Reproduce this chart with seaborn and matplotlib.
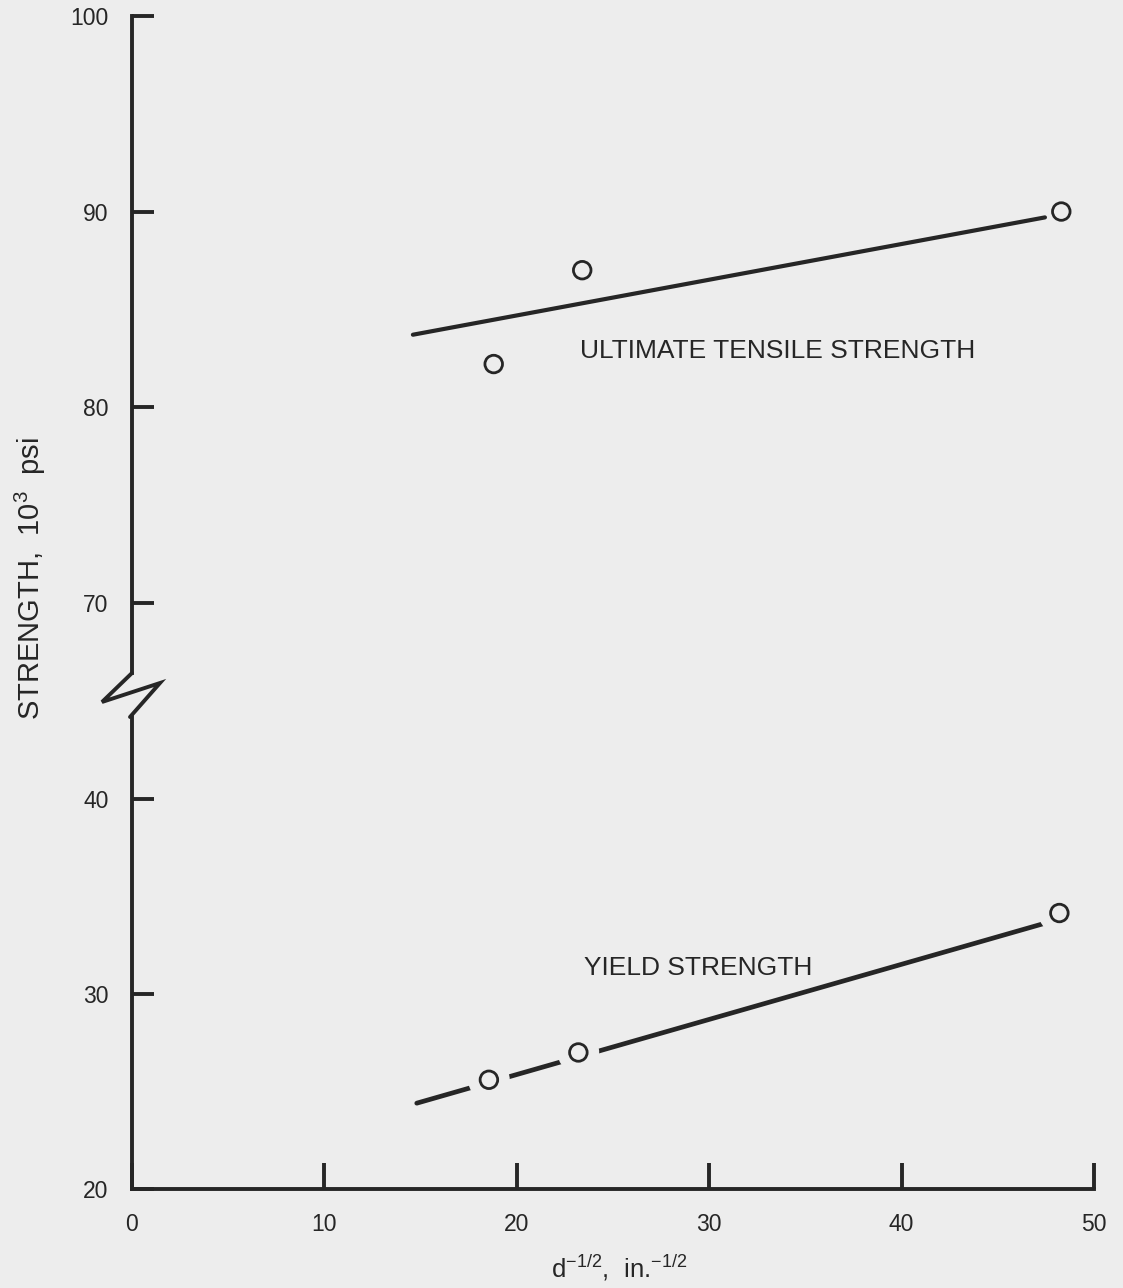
import numpy as np
import pandas as pd
import matplotlib
matplotlib.use("Agg")
import matplotlib.pyplot as plt
from matplotlib.lines import Line2D
import seaborn as sns

# ---- data ----
uts_x = [18.8, 23.4, 48.3]
uts_y = [82.2, 87.0, 90.0]
uts_line_x = [14.6, 47.45]
uts_line_y = [83.7, 89.7]

ys_x = [18.55, 23.2, 48.2]
ys_y = [25.6, 27.0, 34.15]
ys_line_x = [14.8, 47.5]
ys_line_y = [24.4, 33.64]

x_ticks = [0, 10, 20, 30, 40, 50]
y_ticks_top = [70, 80, 90, 100]
y_ticks_bottom = [20, 30, 40]

BG = "#ededed"
INK = "#262626"

sns.set_theme(style="white")
plt.rcParams["font.family"] = ["Liberation Sans", "DejaVu Sans"]
plt.rcParams["mathtext.fontset"] = "custom"
plt.rcParams["mathtext.rm"] = "Liberation Sans"
plt.rcParams["mathtext.it"] = "Liberation Sans"
plt.rcParams["mathtext.default"] = "rm"

W, H = 1123, 1288
fig = plt.figure(figsize=(W / 100, H / 100), dpi=100, facecolor=BG)

def fx(px):
    return px / W

def fy(py):
    return 1 - py / H

left, right = fx(132), fx(1094)
ax_top = fig.add_axes([left, fy(673), right - left, fy(16) - fy(673)], facecolor=BG)
ax_bot = fig.add_axes([left, fy(1189), right - left, fy(717) - fy(1189)], facecolor=BG)

LW_SPINE = 2.8
for ax in (ax_top, ax_bot):
    for s in ("top", "right"):
        ax.spines[s].set_visible(False)
    ax.spines["left"].set_linewidth(LW_SPINE)
    ax.spines["left"].set_color(INK)
    ax.set_xlim(0, 50)
ax_top.spines["bottom"].set_visible(False)
ax_bot.spines["bottom"].set_linewidth(LW_SPINE)
ax_bot.spines["bottom"].set_color(INK)

ax_top.set_ylim(66.4, 100)
ax_bot.set_ylim(20, 44.2)

# Ultimate tensile strength
sns.lineplot(x=uts_line_x, y=uts_line_y, ax=ax_top, color=INK, linewidth=3.0, zorder=2)
sns.scatterplot(x=uts_x, y=uts_y, ax=ax_top, marker="o", s=160, facecolor="none",
                edgecolor=INK, linewidth=2.0, zorder=4)

# Yield strength
sns.lineplot(x=ys_line_x, y=ys_line_y, ax=ax_bot, color=INK, linewidth=3.4, zorder=2)
sns.scatterplot(x=ys_x, y=ys_y, ax=ax_bot, marker="o", s=900, color=BG,
                edgecolor="none", linewidth=0, zorder=3)
sns.scatterplot(x=ys_x, y=ys_y, ax=ax_bot, marker="o", s=160, facecolor="none",
                edgecolor=INK, linewidth=2.0, zorder=4)

# ticks
ax_top.set_xticks([])
ax_top.set_yticks(y_ticks_top)
ax_top.set_yticklabels([str(v) for v in y_ticks_top])
ax_bot.set_yticks(y_ticks_bottom)
ax_bot.set_yticklabels([str(v) for v in y_ticks_bottom])
ax_bot.set_xticks(x_ticks)
ax_bot.set_xticklabels([str(v) for v in x_ticks])

for ax in (ax_top, ax_bot):
    ax.tick_params(axis="y", direction="in", length=16, width=LW_SPINE, color=INK,
                   labelsize=16.5, labelcolor=INK, pad=17, left=True)
ax_bot.tick_params(axis="x", direction="in", length=19, width=LW_SPINE, color=INK,
                   labelsize=16.5, labelcolor=INK, pad=17, bottom=True)
for ax in (ax_top, ax_bot):
    ax.set_xlabel("")
    ax.set_ylabel("")
    ax.grid(False)

# annotations
ax_top.text(23.3, 82.86, "ULTIMATE TENSILE STRENGTH", fontsize=19, color=INK,
            ha="left", va="center")
ax_bot.text(23.5, 31.33, "YIELD STRENGTH", fontsize=19, color=INK,
            ha="left", va="center")

fig.text(fx(619), fy(1268), r"d$^{-1/2}$,  in.$^{-1/2}$", fontsize=18.5, color=INK,
         ha="center", va="center")
fig.text(fx(30), fy(579), r"STRENGTH,  10$^{3}$  psi", fontsize=21, color=INK,
         rotation=90, ha="center", va="center")

# axis break zigzag
zz_x = [132, 102, 160, 130]
zz_y = [673, 702, 683, 717]
fig.add_artist(Line2D([fx(v) for v in zz_x], [fy(v) for v in zz_y],
                      transform=fig.transFigure, color=INK, linewidth=LW_SPINE,
                      solid_joinstyle="miter"))

fig.savefig("out.png", dpi=100, facecolor=BG)
